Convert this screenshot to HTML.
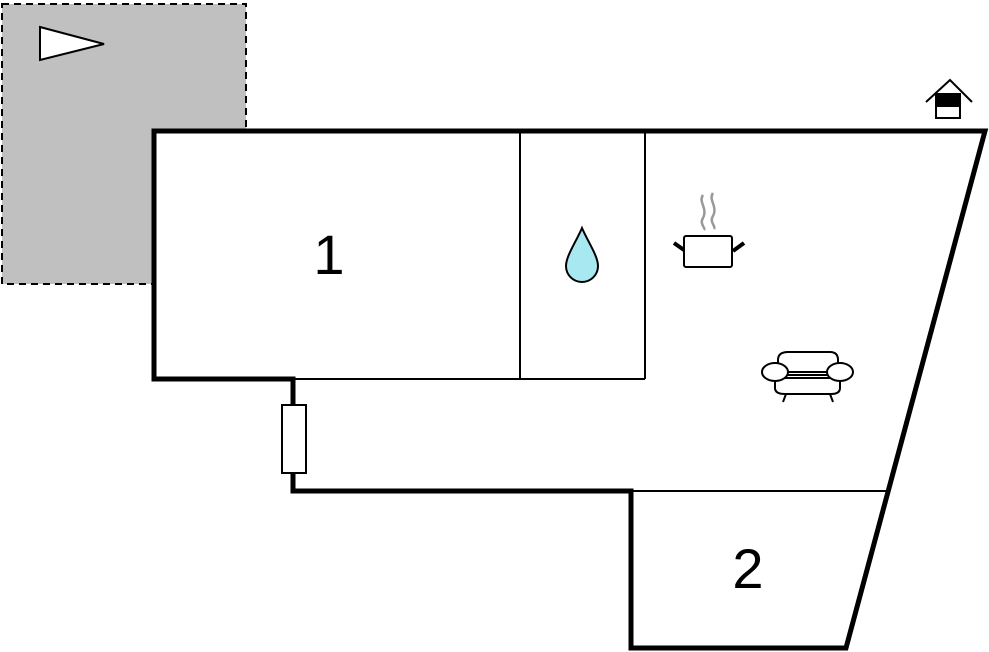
<!DOCTYPE html>
<html><head><style>body{margin:0;background:#fff}svg{display:block}</style></head><body>
<svg width="989" height="652" viewBox="0 0 989 652" xmlns="http://www.w3.org/2000/svg">
<rect x="2" y="4" width="244" height="280" fill="#c0c0c0" stroke="#000" stroke-width="2" stroke-dasharray="7,5"/>
<polygon points="40,27 104,44 40,60" fill="#fff" stroke="#000" stroke-width="2"/>
<polygon points="154,131 985,131 846,648 631,648 631,491 293,491 293,379 154,379" fill="#fff" stroke="#000" stroke-width="5"/>
<g stroke="#000" stroke-width="2" fill="none">
<line x1="520" y1="131" x2="520" y2="379"/>
<line x1="645" y1="131" x2="645" y2="379"/>
<line x1="293" y1="379" x2="645" y2="379"/>
<line x1="631" y1="491" x2="887" y2="491"/>
</g>
<rect x="282" y="405" width="24" height="68" fill="#fff" stroke="#000" stroke-width="2"/>
<text x="329" y="274" font-family="Liberation Sans, sans-serif" font-size="56" text-anchor="middle">1</text>
<text x="748" y="588" font-family="Liberation Sans, sans-serif" font-size="56" text-anchor="middle">2</text>
<path d="M582,228 C576,242 566,256 566,266 A16,16 0 0 0 598,266 C598,256 588,242 582,228 Z" fill="#a8e8f0" stroke="#000" stroke-width="2"/>
<g fill="none">
<path d="M703,195 C698,202 708,208 703,218 C699,224 706,228 704,230" stroke="#999" stroke-width="2.5"/>
<path d="M713,193 C708,200 718,206 713,216 C709,222 716,226 714,229" stroke="#999" stroke-width="2.5"/>
<rect x="684" y="236" width="48" height="31" rx="2" stroke="#000" stroke-width="2"/>
<line x1="674" y1="243" x2="684" y2="250" stroke="#000" stroke-width="4"/>
<line x1="744" y1="243" x2="733" y2="251" stroke="#000" stroke-width="4"/>
</g>
<g fill="#fff" stroke="#000" stroke-width="2">
<path d="M778,372 L778,360 Q778,352 788,352 L830,352 Q838,352 838,360 L838,372 Z"/>
<path d="M775,378 L775,388 Q775,394 785,394 L831,394 Q840,394 840,388 L840,378 Z"/>
<line x1="785" y1="375" x2="830" y2="375"/>
<ellipse cx="775" cy="372" rx="13" ry="9"/>
<ellipse cx="840" cy="372" rx="13" ry="9"/>
<line x1="786" y1="394" x2="783" y2="402"/>
<line x1="830" y1="394" x2="833" y2="402"/>
</g>
<g stroke="#000" stroke-width="2" fill="#fff">
<polyline points="926,102 950,80 972,102" fill="none"/>
<rect x="936" y="94" width="24" height="24"/>
<rect x="936" y="94" width="24" height="12" fill="#000"/>
</g>
</svg>
</body></html>
